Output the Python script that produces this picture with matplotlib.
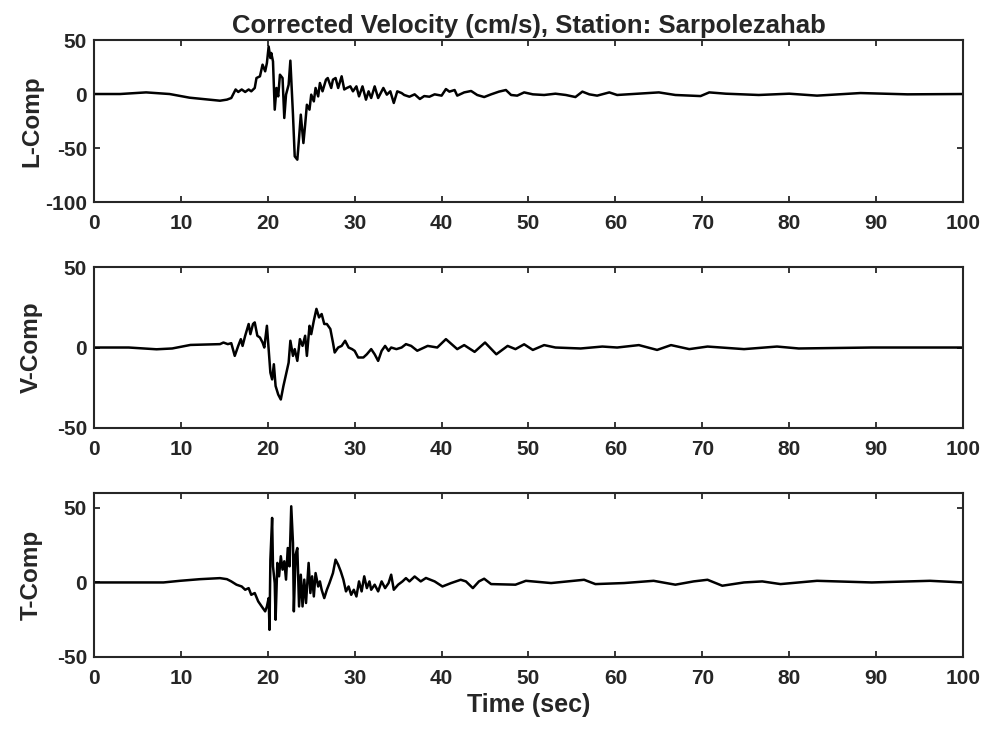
import matplotlib
matplotlib.use("Agg")
from matplotlib import pyplot as plt

# L component (time in sec, velocity in cm/s)
l_time = [0, 3, 6.0, 8.7, 11.0, 14.5, 15.3, 15.8, 16.3, 16.6, 17.0, 17.4, 17.8, 18.1,
          18.5, 18.7, 19.1, 19.4, 19.7, 19.9, 20.1, 20.3, 20.4, 20.6, 20.8, 21.0, 21.2,
          21.4, 21.7, 21.9, 22.1, 22.4, 22.6, 22.9, 23.1, 23.4, 23.6, 23.8, 24.1, 24.3,
          24.5, 24.8, 25.0, 25.3, 25.5, 25.8, 26.0, 26.3, 26.7, 26.9, 27.3, 27.5, 27.8,
          28.1, 28.5, 28.8, 29.1, 29.5, 29.8, 30.2, 30.5, 30.9, 31.3, 31.6, 31.9, 32.3,
          32.7, 33.3, 33.7, 34.1, 34.5, 34.9, 35.4, 35.7, 36.3, 36.9, 37.5, 38.0, 38.6,
          39.2, 40.0, 40.5, 40.9, 41.5, 41.8, 42.6, 43.4, 44.1, 44.9, 45.7, 46.6, 47.4,
          48.0, 48.7, 49.5, 50.5, 51.8, 53.1, 54.3, 55.4, 56.2, 57.0, 57.9, 59.3, 60.2,
          62.0, 65.0, 66.9, 69.8, 70.8, 72.7, 76.5, 80.0, 83.2, 88.2, 93.6, 100]
l_vel = [0, 0, 1.5, 0, -3.4, -6.2, -5.2, -3.7, 4.2, 1.9, 4.2, 1.9, 4.2, 2.5,
         5.6, 14.8, 16.4, 27.2, 21.0, 28.7, 44.0, 33.3, 38.0, 30.2, -14.5, 5.6, -2.2,
         17.9, 14.8, -22.2, -0.6, 8.6, 30.9, -19.1, -57.7, -60.8, -40.7, -19.1, -45.4, -28.4,
         -9.9, -14.5, -0.6, -6.8, 5.6, -2.2, 10.2, 2.5, 13.3, 14.8, 5.6, 13.3, 14.8,
         5.6, 16.4, 4.2, 5.6, 7.1, 2.5, 7.1, -2.2, 7.1, -5.2, 2.5, -3.7, 7.1,
         -3.7, 5.6, -0.6, 2.5, -8.3, 2.5, 0.9, -0.9, -2.5, -0.3, -4.6, -1.9, -2.5,
         -0.3, -1.5, 4.6, 2.2, 3.7, -1.5, 1.5, 2.8, -0.9, -2.8, -0.3, 2.2, 3.7,
         -0.9, -1.5, 1.5, -0.3, -0.9, 0.3, -0.9, -2.8, 2.2, -0.3, -1.5, 1.5, -0.9,
         0, 1.5, -0.9, -1.9, 1.5, 0.3, -0.9, 0.3, -1.5, 0.9, -0.3, 0]

# V component
v_time = [0, 4, 7.2, 9.0, 11.1, 14.5, 14.9, 15.4, 15.8, 16.2, 16.6, 16.9, 17.1, 17.4,
          17.8, 18.0, 18.3, 18.5, 18.8, 19.1, 19.4, 19.6, 19.9, 20.1, 20.3, 20.5, 20.7,
          20.9, 21.2, 21.5, 21.8, 22.1, 22.4, 22.6, 22.9, 23.1, 23.4, 23.7, 24.0, 24.3,
          24.5, 24.8, 25.0, 25.3, 25.6, 25.9, 26.2, 26.5, 26.8, 27.2, 27.5, 27.7, 28.1,
          28.5, 28.9, 29.3, 29.7, 30.0, 30.4, 31.0, 31.4, 31.9, 32.3, 32.7, 33.1, 33.5,
          33.9, 34.2, 34.8, 35.4, 35.9, 36.5, 37.2, 38.4, 39.5, 40.5, 41.8, 42.6, 43.8,
          45.0, 46.3, 47.6, 48.5, 49.5, 50.5, 51.8, 53.1, 56.0, 58.5, 60.2, 62.7, 64.8,
          66.4, 68.5, 70.6, 74.8, 78.6, 81.1, 89.5, 100]
v_vel = [0, 0, -1.1, -0.6, 1.6, 2.1, 3.1, 2.1, 2.7, -5.2, 1.0, 5.2, 1.0, 7.3,
         14.6, 8.3, 14.6, 15.6, 7.3, 6.2, 3.1, 0, 13.5, -1.0, -15.6, -19.8, -10.4,
         -23.9, -29.2, -32.3, -23.9, -16.7, -9.4, 4.2, -5.2, -1.0, -8.3, 5.2, 1.0, 7.3,
         -5.2, 13.5, 8.3, 16.7, 24.0, 18.7, 20.8, 14.6, 14.6, 11.5, 3.1, -3.1, 0,
         1.0, 4.2, 0, -1.0, -2.1, -6.2, -6.2, -4.2, -1.0, -4.2, -8.3, -2.1, 1.0,
         -2.1, 0, -1.0, 0, 2.1, 1.0, -2.0, 1.0, 0, 5.2, -1.0, 1.5, -2.7,
         3.1, -4.2, 1.0, -1.0, 2.0, -1.5, 1.5, 0, -0.6, 0.6, 0, 1.5, -1.5,
         1.5, -1.0, 0.6, -1.0, 0.6, -0.6, 0, 0]

# T component
t_time = [0, 8, 9.9, 12.2, 14.5, 15.3, 15.8, 16.4, 17.0, 17.4, 17.8, 18.1, 18.5, 18.9,
          19.3, 19.7, 19.9, 20.1, 20.2, 20.3, 20.5, 20.6, 20.8, 20.9, 21.1, 21.3, 21.5,
          21.7, 21.9, 22.1, 22.3, 22.5, 22.7, 22.9, 23.0, 23.2, 23.4, 23.6, 23.8, 24.0,
          24.2, 24.4, 24.7, 24.9, 25.1, 25.3, 25.5, 25.8, 26.0, 26.2, 26.5, 26.8, 27.1,
          27.5, 27.8, 28.1, 28.4, 28.7, 29.0, 29.3, 29.6, 29.9, 30.2, 30.5, 30.8, 31.1,
          31.4, 31.7, 31.9, 32.3, 32.7, 33.1, 33.5, 33.9, 34.2, 34.5, 35.0, 35.5, 35.9,
          36.3, 36.9, 37.6, 38.2, 39.2, 40.1, 41.1, 42.2, 42.8, 43.6, 44.3, 44.9, 45.7,
          48.5, 49.7, 52.6, 56.4, 57.7, 61.0, 64.4, 66.9, 69.0, 70.6, 72.3, 74.8, 76.9,
          79.0, 83.2, 89.5, 96.2, 100]
t_vel = [0, 0, 1.1, 2.2, 2.9, 2.2, 0.7, -1.5, -2.7, -4.9, -3.8, -8.3, -7.1, -12.7,
         -16.1, -19.4, -16.1, -10.5, -31.8, 15.3, 43.3, 10.8, -0.4, -25.0, 13.1, 4.1, 17.6,
         8.6, 14.2, 1.9, 23.1, 10.8, 51.1, 26.5, -19.4, 18.6, 23.1, -16.1, 5.2, -16.1,
         1.9, -13.8, 13.1, -7.1, 4.1, -9.4, 6.3, -2.7, 0.7, -4.9, -10.5, -4.9, -0.4,
         6.3, 15.3, 11.9, 7.4, 1.9, -6.0, -2.7, -8.3, -4.9, -9.4, 0.7, -6.0, 4.1,
         -3.8, 0.7, -4.9, -1.5, -6.0, 0.7, -3.8, -0.4, 5.2, -4.9, -1.5, 0.7, 2.9,
         0.7, 4.0, 0.7, 3.0, 0.7, -2.7, -0.4, 1.8, 0.7, -3.8, 0.7, 2.5, -1.1,
         -1.5, 1.1, -0.4, 1.8, -1.1, -0.4, 1.1, -1.5, 0.7, 1.8, -2.2, 0, 0.7,
         -1.1, 1.1, 0, 1.1, 0]

x_ticks = list(range(0, 101, 10))

panels = [
    ("L-Comp", l_time, l_vel, (-100, 50), [-100, -50, 0, 50]),
    ("V-Comp", v_time, v_vel, (-50, 50), [-50, 0, 50]),
    ("T-Comp", t_time, t_vel, (-50, 60), [-50, 0, 50]),
]

plt.rcParams["font.family"] = ["Liberation Sans", "DejaVu Sans"]
plt.rcParams["font.weight"] = "bold"
plt.rcParams["axes.unicode_minus"] = False
text_color = "#262626"

fig = plt.figure(figsize=(9.87, 7.29), dpi=100)
# axes boxes [left, bottom, width, height] in figure fraction
boxes = [[0.0952, 0.7229, 0.8805, 0.2222],
         [0.0952, 0.4129, 0.8805, 0.2208],
         [0.0952, 0.0988, 0.8805, 0.2249]]

for box, (name, t, v, ylim, yticks) in zip(boxes, panels):
    ax = fig.add_axes(box)
    ax.plot(t, v, color="black", linewidth=1.8)
    ax.set_xlim(0, 100)
    ax.set_ylim(*ylim)
    ax.set_xticks(x_ticks)
    ax.set_yticks(yticks)
    ax.tick_params(direction="in", top=True, right=True, length=4.5, width=1.3,
                   labelsize=15, colors=text_color)
    ax.tick_params(axis="x", pad=8.5)
    ax.tick_params(axis="y", pad=5)
    for s in ax.spines.values():
        s.set_linewidth(1.5)
        s.set_color(text_color)
    ax.set_ylabel(name, fontsize=17.5, fontweight="bold", color=text_color)
    ax.yaxis.set_label_coords(-0.0587, 0.5)
    if name == "L-Comp":
        ax.set_title("Corrected Velocity (cm/s), Station: Sarpolezahab",
                     fontsize=18.5, fontweight="bold", color=text_color, pad=5)
    if name == "T-Comp":
        ax.set_xlabel("Time (sec)", fontsize=18, fontweight="bold",
                      color=text_color, labelpad=3.5)

fig.savefig("out.png", dpi=100)
